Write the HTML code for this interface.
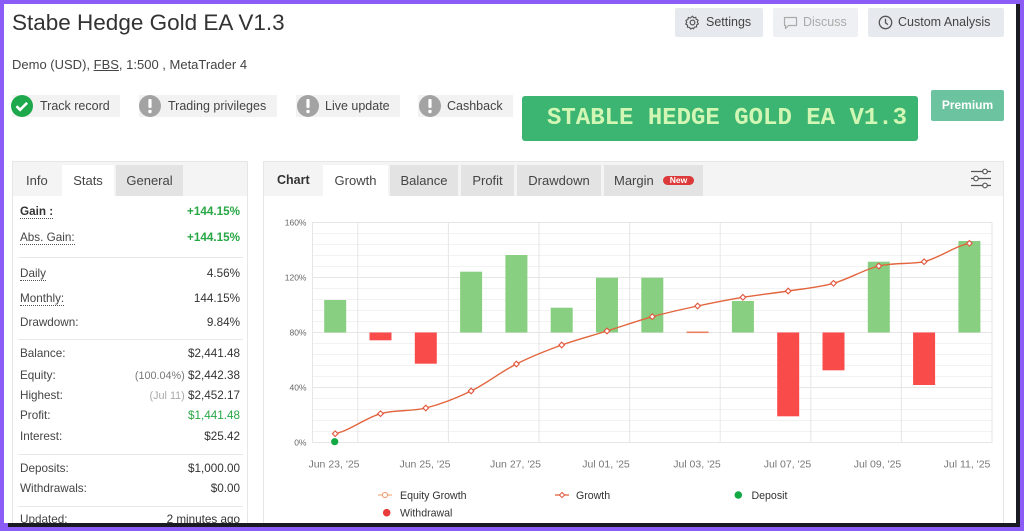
<!DOCTYPE html>
<html><head><meta charset="utf-8"><style>
*{margin:0;padding:0;box-sizing:border-box}
html,body{width:1024px;height:531px;overflow:hidden;background:#8c5cf6;font-family:"Liberation Sans",Arial,sans-serif;color:#333}
#wrap{position:absolute;left:0;top:0;width:1024px;height:531px;overflow:hidden;background:#8c5cf6}
.a{position:absolute;white-space:nowrap}
#inner{position:absolute;left:4px;top:4px;width:1012px;height:519px;background:#fff;overflow:hidden}
.badge{position:absolute;top:95px;height:22px;background:#f2f2f2;font-size:12.5px;line-height:22px;color:#444}
.btn{position:absolute;top:8px;height:29px;background:#e6e9ee;font-size:12.5px;line-height:29px;color:#444;border-radius:2px}
.lab{position:absolute;left:20px;font-size:11.7px;color:#444;line-height:16px}
.val{position:absolute;right:784px;font-size:11.7px;color:#333;line-height:16px;text-align:right}
.dot{border-bottom:1px dotted #555}
.sep{position:absolute;left:18px;width:225px;height:1px;background:#e8e8e8}
.tab{position:absolute;top:165px;height:31px;font-size:13px;line-height:31px;color:#444}
</style></head><body>
<div id="wrap">
<div id="inner"></div>

<!-- header -->
<div class="a" style="left:12px;top:12px;font-size:22.5px;line-height:22px;color:#333">Stabe Hedge Gold EA V1.3</div>
<div class="a" style="left:12px;top:57px;font-size:13px;line-height:16px;color:#444">Demo (USD), <span style="text-decoration:underline">FBS</span>, 1:500 , MetaTrader 4</div>

<div class="badge" style="left:12px;width:108px"><svg class="a" style="left:-1px;top:-1px" width="24" height="24"><circle cx="11" cy="12" r="11" fill="#1ea84c"/><path d="M5.5 12.2l3.6 3.6 7-7" stroke="#fff" stroke-width="2.6" fill="none"/></svg><span class="a" style="left:28px">Track record</span></div>
<div class="badge" style="left:139px;width:138px"><svg class="a" style="left:0;top:-1px" width="24" height="24"><circle cx="11" cy="12" r="11" fill="#a3a3a3"/><rect x="9.4" y="5" width="3.2" height="9" rx="1" fill="#fff"/><circle cx="11" cy="17.5" r="1.7" fill="#fff"/></svg><span class="a" style="left:29px">Trading privileges</span></div>
<div class="badge" style="left:296px;width:104px"><svg class="a" style="left:1px;top:-1px" width="24" height="24"><circle cx="11" cy="12" r="11" fill="#a3a3a3"/><rect x="9.4" y="5" width="3.2" height="9" rx="1" fill="#fff"/><circle cx="11" cy="17.5" r="1.7" fill="#fff"/></svg><span class="a" style="left:29px">Live update</span></div>
<div class="badge" style="left:418px;width:95px"><svg class="a" style="left:1px;top:-1px" width="24" height="24"><circle cx="11" cy="12" r="11" fill="#a3a3a3"/><rect x="9.4" y="5" width="3.2" height="9" rx="1" fill="#fff"/><circle cx="11" cy="17.5" r="1.7" fill="#fff"/></svg><span class="a" style="left:29px">Cashback</span></div>

<!-- top right buttons -->
<div class="btn" style="left:675px;width:88px"><svg class="a" style="left:10px;top:7px" width="15" height="15" viewBox="0 0 16 16"><circle cx="8" cy="8" r="2.5" fill="none" stroke="#555" stroke-width="1.3"/><path d="M8 1.2l1.3 1.8 2.2-.6.4 2.2 2.1.9-.9 2.1 1.2 1.9-2 1.1.1 2.2-2.2.1-1.2 1.9L8 13.9 6 15l-1.2-1.9-2.2-.1.1-2.2-2-1.1L1.9 7.8 1 5.7l2.1-.9.4-2.2 2.2.6z" fill="none" stroke="#555" stroke-width="1.2" stroke-linejoin="round"/></svg><span class="a" style="left:31px">Settings</span></div>
<div class="btn" style="left:773px;width:85px;background:#eef0f3;color:#aaa"><svg class="a" style="left:10px;top:8px" width="15" height="14" viewBox="0 0 15 14"><path d="M1.5 1.5h12v8h-8l-3 3v-3h-1z" fill="none" stroke="#aaa" stroke-width="1.2" stroke-linejoin="round"/></svg><span class="a" style="left:30px">Discuss</span></div>
<div class="btn" style="left:868px;width:136px"><svg class="a" style="left:10px;top:7px" width="15" height="15" viewBox="0 0 15 15"><circle cx="7.5" cy="7.5" r="6.2" fill="none" stroke="#555" stroke-width="1.3"/><path d="M7.5 3.8v4l2.5 1.8" fill="none" stroke="#555" stroke-width="1.3"/></svg><span class="a" style="left:30px">Custom Analysis</span></div>

<!-- banner -->
<div class="a" style="left:522px;top:96px;width:396px;height:45px;background:#3cb472;border-radius:3px"></div>
<div class="a" style="left:547px;top:106px;font-family:'Liberation Mono',monospace;font-weight:bold;font-size:24px;line-height:26px;color:#d2f7b4">STABLE HEDGE GOLD EA V1.3</div>
<div class="a" style="left:931px;top:90px;width:73px;height:31px;background:#6cc39f;border-radius:2px;color:#fff;font-weight:bold;font-size:12px;line-height:31px;text-align:center">Premium</div>

<!-- left panel -->
<div class="a" style="left:12px;top:161px;width:236px;height:366px;border:1px solid #e6e6e6;background:#fff"></div>
<div class="a" style="left:13px;top:162px;width:234px;height:34px;background:#f4f4f4"></div>
<div class="tab" style="left:26px">Info</div>
<div class="tab" style="left:62px;width:52px;background:#fff;text-align:center">Stats</div>
<div class="tab" style="left:116px;width:67px;background:#e3e3e3;text-align:center">General</div>

<div class="lab" style="top:204px;font-weight:bold;color:#333"><span class="dot">Gain :</span></div>
<div class="val" style="top:204px;color:#28a745;font-weight:bold">+144.15%</div>
<div class="lab" style="top:230px"><span class="dot">Abs. Gain:</span></div>
<div class="val" style="top:230px;color:#28a745;font-weight:bold">+144.15%</div>
<div class="sep" style="top:257px"></div>
<div class="lab" style="top:266px"><span class="dot">Daily</span></div>
<div class="val" style="top:266px">4.56%</div>
<div class="lab" style="top:291px"><span class="dot">Monthly:</span></div>
<div class="val" style="top:291px">144.15%</div>
<div class="lab" style="top:315px">Drawdown:</div>
<div class="val" style="top:315px">9.84%</div>
<div class="sep" style="top:339px"></div>
<div class="lab" style="top:346px">Balance:</div>
<div class="val" style="top:346px">$2,441.48</div>
<div class="lab" style="top:368px">Equity:</div>
<div class="val" style="top:368px"><span style="color:#777;font-size:10.8px">(100.04%)</span> $2,442.38</div>
<div class="lab" style="top:388px">Highest:</div>
<div class="val" style="top:388px"><span style="color:#aaa;font-size:10.8px">(Jul 11)</span> $2,452.17</div>
<div class="lab" style="top:408px">Profit:</div>
<div class="val" style="top:408px;color:#28a745">$1,441.48</div>
<div class="lab" style="top:429px">Interest:</div>
<div class="val" style="top:429px">$25.42</div>
<div class="sep" style="top:454px"></div>
<div class="lab" style="top:461px">Deposits:</div>
<div class="val" style="top:461px">$1,000.00</div>
<div class="lab" style="top:481px">Withdrawals:</div>
<div class="val" style="top:481px">$0.00</div>
<div class="sep" style="top:506px"></div>
<div class="lab" style="top:512px">Updated:</div>
<div class="val" style="top:512px">2 minutes ago</div>

<!-- chart panel -->
<div class="a" style="left:263px;top:161px;width:741px;height:366px;border:1px solid #e6e6e6;background:#fff"></div>
<div class="a" style="left:264px;top:162px;width:739px;height:34px;background:#f4f4f4"></div>
<div class="tab" style="left:277px;color:#333;font-weight:bold;font-size:12.5px">Chart</div>
<div class="tab" style="left:323px;width:65px;background:#fff;text-align:center">Growth</div>
<div class="tab" style="left:390px;width:68px;background:#e3e3e3;text-align:center">Balance</div>
<div class="tab" style="left:461px;width:53px;background:#e3e3e3;text-align:center">Profit</div>
<div class="tab" style="left:517px;width:84px;background:#e3e3e3;text-align:center">Drawdown</div>
<div class="tab" style="left:604px;width:99px;background:#e3e3e3"><span class="a" style="left:10px">Margin</span><span class="a" style="left:59px;top:11px;width:31px;height:9px;background:#dc3a3a;border-radius:5px;color:#fff;font-size:8.5px;font-weight:bold;line-height:9px;text-align:center">New</span></div>
<svg class="a" style="left:970px;top:168px" width="24" height="22" viewBox="0 0 24 22"><g stroke="#555" stroke-width="1.2" fill="#fff"><line x1="1" y1="3.5" x2="21" y2="3.5"/><line x1="1" y1="10.5" x2="21" y2="10.5"/><line x1="1" y1="17.5" x2="21" y2="17.5"/><circle cx="15" cy="3.5" r="2.3"/><circle cx="6" cy="10.5" r="2.3"/><circle cx="15" cy="17.5" r="2.3"/></g></svg>

<svg class="a" style="left:0;top:0" width="1024" height="531" viewBox="0 0 1024 531">
<g stroke="#f2f2f2" stroke-width="1">
<line x1="312.5" y1="233.5" x2="992" y2="233.5"/><line x1="312.5" y1="244.5" x2="992" y2="244.5"/><line x1="312.5" y1="255.5" x2="992" y2="255.5"/><line x1="312.5" y1="266.5" x2="992" y2="266.5"/>
<line x1="312.5" y1="288.5" x2="992" y2="288.5"/><line x1="312.5" y1="299.5" x2="992" y2="299.5"/><line x1="312.5" y1="310.5" x2="992" y2="310.5"/><line x1="312.5" y1="321.5" x2="992" y2="321.5"/>
<line x1="312.5" y1="343.5" x2="992" y2="343.5"/><line x1="312.5" y1="354.5" x2="992" y2="354.5"/><line x1="312.5" y1="365.5" x2="992" y2="365.5"/><line x1="312.5" y1="376.5" x2="992" y2="376.5"/>
<line x1="312.5" y1="398.5" x2="992" y2="398.5"/><line x1="312.5" y1="409.5" x2="992" y2="409.5"/><line x1="312.5" y1="420.5" x2="992" y2="420.5"/><line x1="312.5" y1="431.5" x2="992" y2="431.5"/>
</g>
<g stroke="#e6e6e6" stroke-width="1">
<line x1="312.5" y1="277.5" x2="992" y2="277.5"/><line x1="312.5" y1="332.5" x2="992" y2="332.5"/><line x1="312.5" y1="387.5" x2="992" y2="387.5"/>
<line x1="357.8" y1="222.5" x2="357.8" y2="442.5"/><line x1="448.4" y1="222.5" x2="448.4" y2="442.5"/><line x1="539" y1="222.5" x2="539" y2="442.5"/><line x1="629.6" y1="222.5" x2="629.6" y2="442.5"/><line x1="720.2" y1="222.5" x2="720.2" y2="442.5"/><line x1="810.8" y1="222.5" x2="810.8" y2="442.5"/><line x1="901.4" y1="222.5" x2="901.4" y2="442.5"/>
<rect x="312.5" y="222.5" width="679.5" height="220" fill="none"/>
</g>
<g font-family="Liberation Sans, Arial, sans-serif" font-size="8.5" fill="#666" text-anchor="end">
<text x="306.5" y="225.5">160%</text><text x="306.5" y="280.5">120%</text><text x="306.5" y="335.5">80%</text><text x="306.5" y="390.5">40%</text><text x="306.5" y="445.5">0%</text>
</g>
<g fill="#88cf82">
<rect x="324.2" y="300" width="22" height="32.5"/>
<rect x="460.1" y="271.7" width="22" height="60.8"/>
<rect x="505.4" y="255" width="22" height="77.5"/>
<rect x="550.7" y="307.7" width="22" height="24.8"/>
<rect x="596" y="277.7" width="22" height="54.8"/>
<rect x="641.3" y="277.7" width="22" height="54.8"/>
<rect x="731.9" y="301" width="22" height="31.5"/>
<rect x="867.8" y="261.7" width="22" height="70.8"/>
<rect x="958.4" y="241" width="22" height="91.5"/>
</g>
<g fill="#fa4b4b">
<rect x="369.5" y="332.5" width="22" height="7.8"/>
<rect x="414.8" y="332.5" width="22" height="31.2"/>
<rect x="777.2" y="332.5" width="22" height="83.8"/>
<rect x="822.5" y="332.5" width="22" height="37.8"/>
<rect x="913.1" y="332.5" width="22" height="52.5"/>
</g>
<rect x="686.6" y="331.5" width="22" height="1.6" fill="#e9805f"/>
<path d="M335.2,433.7 C350.3,430.37 365.4,417.98 380.5,413.7 C395.6,409.42 410.7,411.78 425.8,408 C440.9,404.22 456,398.33 471.1,391 C486.2,383.67 501.3,371.67 516.4,364 C531.5,356.33 546.6,350.5 561.7,345 C576.8,339.5 591.9,335.72 607,331 C622.1,326.28 637.2,320.87 652.3,316.7 C667.4,312.53 682.5,309.23 697.6,306 C712.7,302.77 727.8,299.8 742.9,297.3 C758,294.8 773.1,293.33 788.2,291 C803.3,288.67 818.4,287.47 833.5,283.3 C848.6,279.13 863.7,269.6 878.8,266 C893.9,262.4 909,264.5 924.1,261.7 C939.2,257.92 954.3,246.37 969.4,243.3" fill="none" stroke="#e2653d" stroke-width="1.4"/>
<g fill="#fff" stroke="#e2553d" stroke-width="1.1">
<path d="M335.2,430.9l2.8,2.8-2.8,2.8-2.8-2.8z"/>
<path d="M380.5,410.9l2.8,2.8-2.8,2.8-2.8-2.8z"/>
<path d="M425.8,405.2l2.8,2.8-2.8,2.8-2.8-2.8z"/>
<path d="M471.1,388.2l2.8,2.8-2.8,2.8-2.8-2.8z"/>
<path d="M516.4,361.2l2.8,2.8-2.8,2.8-2.8-2.8z"/>
<path d="M561.7,342.2l2.8,2.8-2.8,2.8-2.8-2.8z"/>
<path d="M607,328.2l2.8,2.8-2.8,2.8-2.8-2.8z"/>
<path d="M652.3,313.9l2.8,2.8-2.8,2.8-2.8-2.8z"/>
<path d="M697.6,303.2l2.8,2.8-2.8,2.8-2.8-2.8z"/>
<path d="M742.9,294.5l2.8,2.8-2.8,2.8-2.8-2.8z"/>
<path d="M788.2,288.2l2.8,2.8-2.8,2.8-2.8-2.8z"/>
<path d="M833.5,280.5l2.8,2.8-2.8,2.8-2.8-2.8z"/>
<path d="M878.8,263.2l2.8,2.8-2.8,2.8-2.8-2.8z"/>
<path d="M924.1,258.9l2.8,2.8-2.8,2.8-2.8-2.8z"/>
<path d="M969.4,240.5l2.8,2.8-2.8,2.8-2.8-2.8z"/>
</g>
<circle cx="334.7" cy="441.7" r="3.6" fill="#12a844"/>
<g font-family="Liberation Sans, Arial, sans-serif" font-size="10.5" fill="#777" text-anchor="middle">
<text x="334" y="467.5">Jun 23, '25</text><text x="425" y="467.5">Jun 25, '25</text><text x="515.5" y="467.5">Jun 27, '25</text><text x="606" y="467.5">Jul 01, '25</text><text x="697" y="467.5">Jul 03, '25</text><text x="787.5" y="467.5">Jul 07, '25</text><text x="877.5" y="467.5">Jul 09, '25</text><text x="967" y="467.5">Jul 11, '25</text>
</g>
<g font-family="Liberation Sans, Arial, sans-serif" font-size="10.6" fill="#333">
<line x1="378" y1="495" x2="392" y2="495" stroke="#f5b48a" stroke-width="1.3"/><circle cx="385" cy="495" r="2.6" fill="#fff" stroke="#f0a070" stroke-width="1.1"/>
<text x="400" y="498.8">Equity Growth</text>
<line x1="555" y1="495" x2="569" y2="495" stroke="#e2653d" stroke-width="1.3"/><path d="M562,492.4l2.6,2.6-2.6,2.6-2.6-2.6z" fill="#fff" stroke="#e2553d" stroke-width="1"/>
<text x="576" y="498.8">Growth</text>
<circle cx="738.3" cy="495" r="3.8" fill="#12a844"/>
<text x="751.5" y="498.8">Deposit</text>
<circle cx="386.7" cy="512.7" r="3.8" fill="#e83c3c"/>
<text x="400" y="516.5">Withdrawal</text>
</g>
</svg>

<!-- frame on top -->
<div class="a" style="left:0;top:0;width:1024px;height:4px;background:#8c5cf6"></div>
<div class="a" style="left:0;top:0;width:4px;height:531px;background:#8c5cf6"></div>
<div class="a" style="left:1020px;top:0;width:4px;height:531px;background:#8c5cf6"></div>
<div class="a" style="left:0;top:527px;width:1024px;height:4px;background:#8c5cf6"></div>
<div class="a" style="left:1016px;top:4px;width:4px;height:523px;background:#1a1a22"></div>
<div class="a" style="left:8px;top:523px;width:1012px;height:4px;background:#1a1a22"></div>
</div>
</body></html>
